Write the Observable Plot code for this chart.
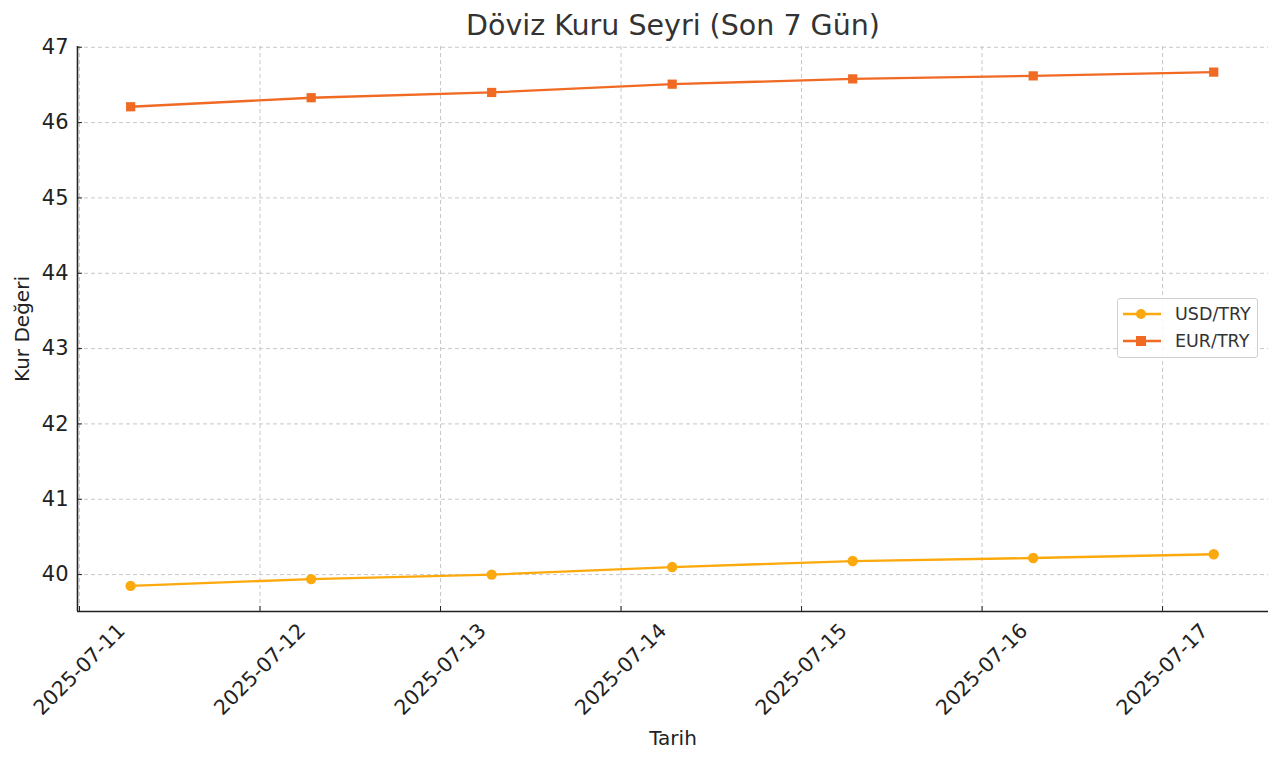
<!DOCTYPE html>
<html>
<head>
<meta charset="utf-8">
<script src="https://cdn.jsdelivr.net/npm/d3@7"></script>
<script src="https://cdn.jsdelivr.net/npm/@observablehq/plot@0.6"></script>
<style>
  html, body { margin: 0; padding: 0; background: #fff; }
  #wrap { position: relative; width: 1280px; height: 763px; font-family: "DejaVu Sans", sans-serif; }
  #legend { position: absolute; left: 1117px; top: 298px; width: 141px; height: 60px; box-sizing: border-box;
            border: 1px solid #d0d0d0; border-radius: 3px; background: rgba(255,255,255,0.85); }
  .row { position: absolute; left: 0; height: 20px; display: flex; align-items: center; }
  .row span { font-size: 17.5px; color: #333; margin-left: 13px; }
</style>
</head>
<body>
<div id="wrap"><div id="legend"></div></div>
<script>
const title = "Döviz Kuru Seyri (Son 7 Gün)";
const series = ["USD/TRY", "EUR/TRY"];
const colors = ["#FBA90C", "#F06A23"];
const symbols = ["circle", "square"];
const dates = ["2025-07-11T06:48Z", "2025-07-12T06:48Z", "2025-07-13T06:48Z", "2025-07-14T06:48Z",
               "2025-07-15T06:48Z", "2025-07-16T06:48Z", "2025-07-17T06:48Z"];
const usd = [39.85, 39.94, 40.00, 40.10, 40.18, 40.22, 40.27];
const eur = [46.21, 46.33, 46.40, 46.51, 46.58, 46.62, 46.67];
const xTickLabels = ["2025-07-11", "2025-07-12", "2025-07-13", "2025-07-14", "2025-07-15", "2025-07-16", "2025-07-17"];
const yTicks = [40, 41, 42, 43, 44, 45, 46, 47];
const xDomain = [new Date("2025-07-10T23:44Z"), new Date("2025-07-17T14:05Z")];
const yDomain = [39.51, 47.01];

const data = [];
[usd, eur].forEach((vals, i) => vals.forEach((v, j) => data.push({series: series[i], date: new Date(dates[j]), value: v})));
const xTicks = xTickLabels.map(d => new Date(d + "T00:00Z"));
const fmt = d3.utcFormat("%Y-%m-%d");

const chart = Plot.plot({
  width: 1280, height: 763,
  marginLeft: 77, marginRight: 12, marginTop: 46, marginBottom: 152,
  style: {fontFamily: "DejaVu Sans, sans-serif", fontSize: "20px", color: "#333", background: "white"},
  x: {type: "utc", domain: xDomain},
  y: {domain: yDomain},
  color: {domain: series, range: colors},
  symbol: {domain: series, range: symbols},
  marks: [
    Plot.gridX(xTicks, {stroke: "#c8c8c8", strokeOpacity: 1, strokeDasharray: "4,3"}),
    Plot.gridY(yTicks, {stroke: "#c8c8c8", strokeOpacity: 1, strokeDasharray: "4,3"}),
    Plot.axisY(yTicks, {tickSize: -5, tickPadding: 14, tickFormat: d => String(d), fontSize: 21, fill: "#222", stroke: "#222",
      label: null}),
    Plot.axisX(xTicks, {tickFormat: fmt, tickRotate: -45, textAnchor: "middle", lineAnchor: "middle",
      tickSize: -5, tickPadding: 63, fontSize: 20.5, fill: "#222", stroke: "#222",
      label: null}),
    Plot.text(["Kur Değeri"], {frameAnchor: "left", rotate: -90, dx: -55, textAnchor: "middle", lineAnchor: "middle", fontSize: 20, fill: "#222"}),
    Plot.text(["Tarih"], {frameAnchor: "bottom", dy: 127, lineAnchor: "middle", fontSize: 20, fill: "#222"}),
    Plot.ruleY([yDomain[0]], {stroke: "#222", strokeWidth: 1.6}),
    Plot.ruleX([xDomain[0]], {stroke: "#222", strokeWidth: 1.6}),
    Plot.line(data, {x: "date", y: "value", z: "series", stroke: "series", strokeWidth: 2.3}),
    Plot.dot(data, {x: "date", y: "value", fill: "series", symbol: "series", r: 5.2, stroke: null}),
    Plot.text([title], {frameAnchor: "top", dy: -21, lineAnchor: "middle", fontSize: 28.5, fill: "#333"})
  ]
});
document.getElementById("wrap").prepend(chart);

// legend
const legend = document.getElementById("legend");
series.forEach((s, i) => {
  const row = document.createElement("div");
  row.className = "row";
  row.style.top = (5 + i * 27) + "px";
  row.style.left = "4px";
  const marker = symbols[i] === "circle"
    ? `<circle cx="19" cy="10" r="5" fill="${colors[i]}"/>`
    : `<rect x="14" y="5" width="10" height="10" fill="${colors[i]}"/>`;
  row.innerHTML = `<svg width="40" height="20"><line x1="1" x2="39" y1="10" y2="10" stroke="${colors[i]}" stroke-width="2.3"/>${marker}</svg><span>${s}</span>`;
  legend.appendChild(row);
});
</script>
</body>
</html>
